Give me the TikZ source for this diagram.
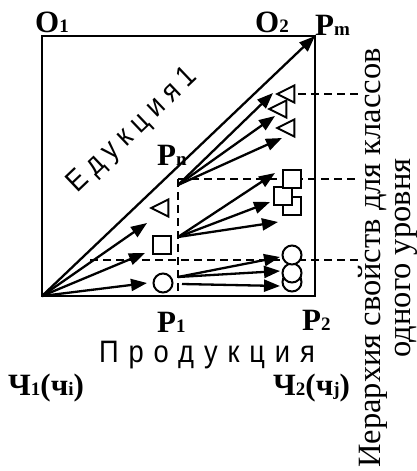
\documentclass[tikz,border=0pt]{standalone}
\usepackage{fontspec}
\setmainfont{Liberation Serif}
\newfontfamily\spacedA[FakeStretch=0.88,LetterSpace=32]{Liberation Sans}
\newfontfamily\spacedB[FakeStretch=0.88,LetterSpace=24]{Liberation Sans}
\usetikzlibrary{positioning, arrows.meta, shapes, calc}
\newcommand{\lsub}[1]{{\fontsize{19}{19}\selectfont #1}}

\begin{document}
\begin{tikzpicture}[x=1pt, y=-1pt,
  lbl/.style={font=\bfseries\fontsize{31}{31}\selectfont, inner sep=0pt, anchor=base west},
  arr/.style={-{Triangle[length=16pt,width=12pt]}, line width=2.3pt},
  dsh/.style={dash pattern=on 8pt off 5pt, line width=1.5pt},
  sq/.style={draw, fill=white, line width=2pt, minimum size=18pt, inner sep=0pt},
  crc/.style={draw, fill=white, circle, line width=2pt, minimum size=19pt, inner sep=0pt},
  tri/.style={draw, fill=white, isosceles triangle, isosceles triangle stretches, shape border rotate=180, minimum width=17pt, minimum height=17pt, line width=2pt, inner sep=0pt}]
\useasboundingbox (0,0) rectangle (417,471);

% frame
\coordinate (o) at (42,296);
\coordinate (pm) at (315,36);
\draw[line width=2pt] (o) rectangle (pm);

% dashed levels
\coordinate (pnc) at (178,179);
\coordinate (p1) at (178,296);
\coordinate (rA) at (358,179);
\coordinate (lB) at (90,260);
\coordinate (rB) at (358,260);
\coordinate (lT) at (298,94);
\coordinate (rT) at (358,94);
\draw[dsh] (pnc) -- (p1);
\draw[dsh] (pnc) -- (rA);
\draw[dsh] (lB) -- (rB);
\draw[dsh] (lT) -- (rT);

% classes
\node[tri] (tl) at (163,208) {};
\node[sq] (sl) at (162,245) {};
\node[crc] (cl) at (163,283) {};
\node[tri] (t1) at (289,94) {};
\node[tri] (t3) at (289,128) {};
\node[tri] (t2) at (281,109) {};
\node[sq] (s3) at (292,205.5) {};
\node[sq] (s2) at (283,196) {};
\node[sq] (s1) at (292,178.5) {};
\node[crc] (c3) at (292,282) {};
\node[crc] (c2) at (292,273) {};
\node[crc] (c1) at (292,255) {};

% arrows
\coordinate (pn) at (178,185);
\coordinate (psq) at (178,237);
\coordinate (pc) at (178,277);
\coordinate (pc2) at (182,284);
\coordinate (a1) at (147,223);
\coordinate (a2) at (145,253);
\coordinate (a3) at (147,283);
\coordinate (b1) at (273,93);
\coordinate (b2) at (275,116);
\coordinate (b3) at (282,138);
\coordinate (d1) at (275,173);
\coordinate (d2) at (270,202);
\coordinate (d3) at (278,222);
\coordinate (e1) at (280,257);
\coordinate (e2) at (280,271);
\coordinate (e3) at (280,286);
\draw[arr] (o) -- (pm);
\draw[arr] (o) -- (a1);
\draw[arr] (o) -- (a2);
\draw[arr] (o) -- (a3);
\draw[arr] (pn) -- (b1);
\draw[arr] (pn) -- (b2);
\draw[arr] (pn) -- (b3);
\draw[arr] (psq) -- (d1);
\draw[arr] (psq) -- (d2);
\draw[arr] (psq) -- (d3);
\draw[arr] (pc) -- (e1);
\draw[arr] (pc) -- (e2);
\draw[arr] (pc2) -- (e3);

% labels
\node[lbl] (o1lbl) at (35,32) {O\lsub{1}};
\node[lbl] (o2lbl) at (255,32) {O\lsub{2}};
\node[lbl] (pmlbl) at (315,35) {P\lsub{m}};
\node[lbl] (pnlbl) at (157,165) {P\lsub{n}};
\node[lbl] (p1lbl) at (157,332) {P\lsub{1}};
\node[lbl] (p2lbl) at (302,330) {P\lsub{2}};
\node[lbl] (ch1) at (8,395) {Ч\lsub{1}(ч\lsub{i})};
\node[lbl] (ch2) at (273,395) {Ч\lsub{2}(ч\lsub{j})};
\node[font=\spacedA\fontsize{31}{31}\selectfont, anchor=base, inner sep=0pt] (prod) at (207,362) {Продукция};
\node[font=\spacedB\fontsize{30}{30}\selectfont, rotate=43.6, inner sep=0pt] (educ) at (133,131) {Едукция1};
\node[font=\fontsize{32.5}{30}\selectfont, rotate=90, align=center, inner sep=0pt] (hier) at (388,258) {Иерархия свойств для классов\\одного уровня};
\end{tikzpicture}
\end{document}
